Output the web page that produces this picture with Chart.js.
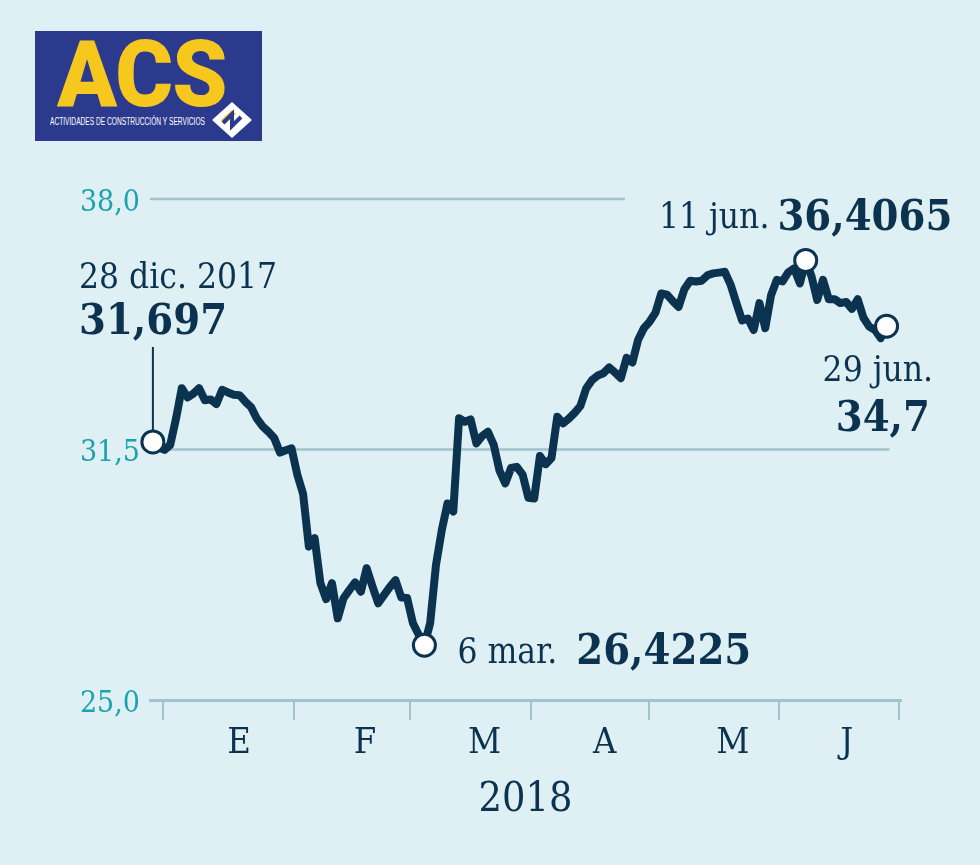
<!DOCTYPE html>
<html><head><meta charset="utf-8">
<script src="https://cdn.jsdelivr.net/npm/chart.js@4.4.1/dist/chart.umd.min.js"></script>
<style>
html,body{margin:0;padding:0;background:#dff0f4;}
#wrap{position:relative;width:980px;height:865px;overflow:hidden;}
#c{position:absolute;left:0;top:0;}
#logo{position:absolute;left:35px;top:31px;width:227px;height:110px;background:#2c3a8e;overflow:hidden;}
#logo .acs{position:absolute;left:22px;top:-3px;font-family:Roboto,"Liberation Sans",Arial,sans-serif;font-weight:900;font-size:93px;line-height:1;color:#f6c71c;transform-origin:0 0;white-space:nowrap;letter-spacing:-1px;}
#logo .sub{position:absolute;left:15px;top:86px;font-family:"Liberation Sans Narrow","Liberation Sans",Arial,sans-serif;font-size:10px;line-height:1;color:#ffffff;transform-origin:0 0;white-space:nowrap;}
#logo svg{position:absolute;left:177px;top:71px;}
</style></head>
<body>
<div id="wrap">
<canvas id="c" width="980" height="865"></canvas>
<div id="logo">
  <div class="acs">ACS</div>
  <div class="sub">ACTIVIDADES DE CONSTRUCCIÓN Y SERVICIOS</div>
  <svg width="40" height="36" viewBox="0 0 40 36">
    <polygon points="20,0 40,18 20,36 0,18" fill="#ffffff"/>
    <polygon points="9,18 20,8 24,12 13,22" fill="#f6c71c"/>
    <polyline points="11,21 20,12 20,24 29,15" fill="none" stroke="#2c3a8e" stroke-width="4" stroke-linejoin="miter"/>
  </svg>
</div>
</div>
<script>
// ---- data (ACS share price, trading days 28 dic 2017 - 29 jun 2018) ----
const prices = [
 31.697, 31.55, 31.49, 31.62, 32.30, 33.09, 32.85, 32.95, 33.09, 32.78,
 32.80, 32.68, 33.05, 32.98, 32.92, 32.91, 32.74, 32.60, 32.30, 32.10,
 31.96, 31.80, 31.42, 31.48, 31.53, 30.85, 30.35, 28.98, 29.20, 28.03,
 27.62, 28.03, 27.12, 27.64, 27.85, 28.05, 27.81, 28.42, 27.95, 27.51,
 27.72, 27.93, 28.11, 27.66, 27.65, 27.00, 26.70, 26.4225, 27.00, 28.50,
 29.40, 30.10, 29.89, 32.31, 32.22, 32.28, 31.66, 31.85, 31.96, 31.62,
 30.95, 30.62, 31.02, 31.05, 30.85, 30.25, 30.23, 31.33, 31.12, 31.28,
 32.35, 32.18, 32.30, 32.45, 32.63, 33.08, 33.30, 33.42, 33.48, 33.63,
 33.50, 33.35, 33.88, 33.76, 34.35, 34.65, 34.82, 35.05, 35.55, 35.52,
 35.35, 35.20, 35.66, 35.88, 35.86, 35.88, 36.02, 36.07, 36.09, 36.11,
 35.78, 35.30, 34.85, 34.90, 34.60, 35.30, 34.65, 35.50, 35.90, 35.86,
 36.10, 36.20, 35.81, 36.4065, 36.00, 35.38, 35.90, 35.40, 35.40, 35.30,
 35.33, 35.15, 35.40, 34.92, 34.69, 34.60, 34.39, 34.70
];
const monthTicks = [1.8, 24.4, 44.5, 65.5, 85.8, 108.3, 129.2];   // month boundaries (trading-day index)
const monthNames = ['E', 'F', 'M', 'A', 'M', 'J'];
const monthCenters = [14.9, 36.7, 57.4, 78.2, 100.4, 120.1];
const yTicks = [25, 31.5, 38];
const yearLabel = '2018';
const highlightIdx = [0, 47, 113, 127];
const highlightDates = ['28 dic. 2017', '6 mar.', '11 jun.', '29 jun.'];

// ---- styles ----
const DARK = '#0b3350';
const TEAL = '#1aa2ae';
const GRID = '#9fc3cf';
const SERIF = '"DejaVu Serif Condensed", "DejaVu Serif", serif';

function fmt(v){ return String(v).replace('.', ','); }

const decor = {
  id: 'decor',
  beforeDatasetsDraw(chart){
    const {ctx, chartArea, scales:{x, y}} = chart;
    ctx.save();
    ctx.strokeStyle = GRID; ctx.lineWidth = 2.5;
    ctx.beginPath();
    ctx.moveTo(chartArea.left, y.getPixelForValue(38));
    ctx.lineTo(x.getPixelForValue(81.7), y.getPixelForValue(38));
    ctx.stroke();
    ctx.beginPath();
    ctx.moveTo(chartArea.left, y.getPixelForValue(31.5));
    ctx.lineTo(x.getPixelForValue(127.5), y.getPixelForValue(31.5));
    ctx.stroke();
    const px = x.getPixelForValue(0), py = y.getPixelForValue(prices[0]);
    ctx.strokeStyle = DARK; ctx.lineWidth = 2;
    ctx.beginPath(); ctx.moveTo(px, 347); ctx.lineTo(px, py - 11); ctx.stroke();
    ctx.restore();
  },
  afterDatasetsDraw(chart){
    const {ctx, scales:{x, y}} = chart;
    const reg = '35px ' + SERIF, bold = 'bold 43px ' + SERIF;
    ctx.save();
    ctx.fillStyle = DARK; ctx.textBaseline = 'alphabetic';
    const P = highlightIdx.map(i => ({x: x.getPixelForValue(i), y: y.getPixelForValue(prices[i]), v: fmt(prices[i])}));
    ctx.textAlign = 'left';
    ctx.font = reg;  ctx.fillText(highlightDates[0], 79, P[0].y - 154);
    ctx.font = bold; ctx.fillText(P[0].v, 79, P[0].y - 108);
    ctx.font = reg; ctx.fillText(highlightDates[1], P[1].x + 33, P[1].y + 18);
    let w = ctx.measureText(highlightDates[1]).width;
    ctx.font = bold; ctx.fillText(P[1].v, P[1].x + 33 + w + 19, P[1].y + 19);
    ctx.font = reg; ctx.fillText(highlightDates[2], 659, P[2].y - 32);
    w = ctx.measureText(highlightDates[2]).width;
    ctx.font = bold; ctx.fillText(P[2].v, 659 + w + 8, P[2].y - 30);
    ctx.textAlign = 'right';
    ctx.font = reg; ctx.fillText(highlightDates[3], 933, P[3].y + 55);
    ctx.font = bold; ctx.fillText(P[3].v, 930, P[3].y + 105);
    ctx.restore();
  }
};

new Chart(document.getElementById('c'), {
  type: 'line',
  data: {
    datasets: [{
      data: prices.map((v, i) => ({x: i, y: v})),
      borderColor: DARK,
      borderWidth: 8,
      borderJoinStyle: 'round',
      borderCapStyle: 'round',
      tension: 0,
      fill: false,
      clip: false,
      pointRadius: c => highlightIdx.includes(c.dataIndex) ? 11 : 0,
      pointBackgroundColor: '#ffffff',
      pointBorderColor: DARK,
      pointBorderWidth: 3,
      pointHoverRadius: 0
    }]
  },
  options: {
    responsive: false,
    animation: false,
    devicePixelRatio: 1,
    layout: {padding: {top: 199, right: 79, left: 0, bottom: 0}},
    plugins: {legend: {display: false}, tooltip: {enabled: false}},
    events: [],
    scales: {
      x: {
        type: 'linear', position: 'bottom', min: -0.5, max: 129.5,
        afterBuildTicks: s => { s.ticks = monthTicks.map(v => ({value: v})); },
        ticks: {display: false},
        grid: {drawOnChartArea: false, drawTicks: true, tickLength: 20, color: GRID, lineWidth: 2},
        border: {display: true, color: GRID, width: 3},
        afterFit: s => { s.height = 22; }
      },
      x2: {
        type: 'linear', position: 'bottom', min: -0.5, max: 129.5,
        afterBuildTicks: s => { s.ticks = monthCenters.map(v => ({value: v})); },
        ticks: {callback: (v, i) => monthNames[i], color: DARK, font: {family: SERIF, size: 36}, padding: 0, maxRotation: 0, autoSkip: false},
        grid: {display: false, drawTicks: false},
        border: {display: false},
        title: {display: true, text: yearLabel, color: DARK, font: {family: SERIF, size: 41}, padding: {top: 0, bottom: 40}},
        afterFit: s => { s.height = 143; }
      },
      y: {
        type: 'linear', min: 25, max: 38,
        afterBuildTicks: s => { s.ticks = yTicks.map(v => ({value: v})); },
        ticks: {callback: v => v.toFixed(1).replace('.', ','), color: TEAL, font: {family: SERIF, size: 30}, padding: 10, labelOffset: 4},
        grid: {display: false, drawTicks: false},
        border: {display: false},
        afterFit: s => { s.width = 150; }
      }
    }
  },
  plugins: [decor]
});

(function(){
  const a = document.querySelector('#logo .acs');
  a.style.transform = 'scaleX(' + (170 / a.offsetWidth) + ')';
  const s = document.querySelector('#logo .sub');
  s.style.transform = 'scaleX(' + (155 / s.offsetWidth) + ')';
})();
</script>
</body></html>
